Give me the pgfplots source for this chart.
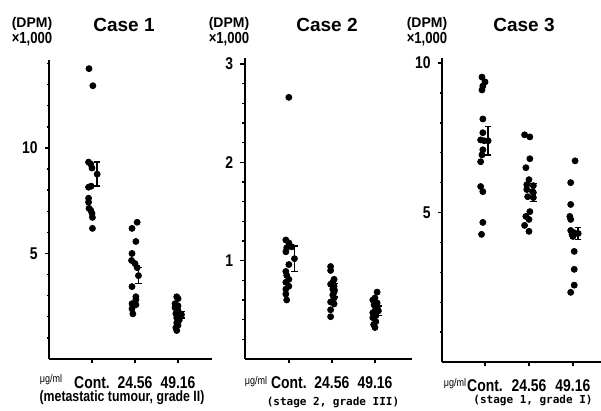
\documentclass[border=0pt]{standalone}
\usepackage{fontspec}
\setmainfont{Liberation Sans}
\newfontfamily\tickfont[FakeStretch=0.82]{Liberation Sans}
\newfontfamily\monofont{DejaVu Sans Mono}
\usepackage{pgfplots}
\pgfplotsset{compat=1.18}

\pgfplotsset{
  dotpanel/.style={
    scale only axis,
    anchor=south west,
    axis lines=left,
    axis line style={-, line width=1pt},
    xtick={0,1,2},
    xticklabels={Cont., 24.56, 49.16},
    tick align=outside,
    major tick length=2.2pt,
    minor tick length=1.2pt,
    tick style={black, line width=0.7pt},
    ticklabel style={font=\tickfont\bfseries\fontsize{8.5}{9}\selectfont},
    xticklabel style={yshift=-3pt},
    /pgf/number format/assume math mode=true,
    clip=false,
  },
  dots/.style={only marks, mark=*, mark size=1.5pt, black},
  meanbar/.style={only marks, mark=*, mark size=1.5pt, black,
    error bars/.cd, y dir=both, y explicit,
    error bar style={line width=0.7pt},
    error mark options={rotate=90, mark size=1.6pt, line width=0.7pt}},
}

\begin{document}
\begin{tikzpicture}
\path[use as bounding box] (0,0) rectangle (300.5pt,205.5pt);

% ---- Case 1 ----
\begin{axis}[dotpanel, at={(24.5pt,26pt)}, width=81.5pt, height=149.5pt,
  xmin=-1, xmax=2.79, ymin=0, ymax=14.17,
  ytick={5,10}, minor ytick={1,...,14}]
\addplot[dots] coordinates {
 (-0.07,13.76) (0.02,12.95) (-0.08,9.33) (-0.03,9.24) (0.0,9.05) (-0.08,8.14) (-0.02,8.19)
 (-0.08,7.62) (-0.08,7.43) (-0.07,7.14) (-0.03,7.05) (0.0,6.9) (0.01,6.71) (0.01,6.19)
 (1.05,6.48) (0.93,6.19) (1.02,5.57) (0.93,5.0) (0.92,4.67) (1.0,4.52) (1.05,4.33)
 (0.93,3.43) (1.02,2.95) (1.02,2.81) (0.93,2.62) (1.02,2.57) (0.93,2.38) (0.95,2.14)
 (1.97,2.95) (2.0,2.86) (1.93,2.62) (2.0,2.52) (1.93,2.43) (2.0,2.3) (1.95,2.15)
 (2.02,2.05) (1.97,1.95) (2.03,1.85) (1.97,1.71) (2.0,1.6) (1.95,1.48) (1.97,1.35)
};
\addplot[meanbar] coordinates {
 (0.12,8.76) +- (0,0.57)
 (1.08,3.95) +- (0,0.38)
 (2.08,2.10) +- (0,0.15)
};
\end{axis}

% ---- Case 2 ----
\begin{axis}[dotpanel, at={(122.25pt,26pt)}, width=83.75pt, height=150.5pt,
  xmin=-1.03, xmax=2.86, ymin=0, ymax=3.06,
  ytick={1,2,3}, minor ytick={0.2,0.4,...,3.0}]
\addplot[dots] coordinates {
 (0.0,2.66) (-0.07,1.21) (0.0,1.18) (0.07,1.14) (-0.05,1.13) (-0.07,1.09) (0.0,0.96)
 (-0.07,0.89) (-0.05,0.85) (0.0,0.81) (-0.07,0.78) (0.0,0.74) (-0.07,0.71) (-0.07,0.66) (-0.05,0.6)
 (0.97,0.94) (0.97,0.9) (1.05,0.81) (1.02,0.78) (0.97,0.76) (1.05,0.74) (1.02,0.71)
 (1.05,0.68) (1.02,0.65) (1.05,0.62) (0.97,0.58) (1.05,0.56) (0.97,0.5) (0.97,0.43)
 (2.05,0.68) (2.0,0.62) (1.95,0.6) (2.05,0.57) (1.98,0.55) (2.05,0.52) (2.0,0.49)
 (1.95,0.47) (2.02,0.44) (1.95,0.42) (2.02,0.38) (1.97,0.35) (2.0,0.32)
};
\addplot[meanbar] coordinates {
 (0.13,1.02) +- (0,0.13)
 (1.06,0.70) +- (0,0.07)
 (2.08,0.49) +- (0,0.05)
};
\end{axis}

% ---- Case 3 ----
\begin{axis}[dotpanel, at={(221pt,24.5pt)}, width=79.5pt, height=152pt,
  xmin=-0.98, xmax=2.64, ymin=0, ymax=10.17,
  ytick={5,10}, minor ytick={1,...,10}]
\addplot[dots] coordinates {
 (-0.07,9.53) (0.0,9.37) (-0.05,9.23) (-0.07,9.1) (-0.05,8.13) (-0.05,7.67) (-0.1,7.43)
 (-0.02,7.4) (-0.05,7.1) (-0.07,6.93) (-0.1,6.7) (-0.1,5.87) (-0.05,5.7) (-0.05,4.67) (-0.08,4.27)
 (0.9,7.6) (1.02,7.53) (1.02,6.8) (0.93,6.5) (1.0,6.1) (0.95,5.93) (1.1,5.9) (0.95,5.77)
 (1.08,5.7) (0.97,5.53) (1.1,5.5) (1.02,5.03) (0.93,4.87) (1.0,4.77) (0.9,4.57) (1.0,4.37)
 (2.05,6.73) (1.95,6.0) (1.95,5.27) (1.93,4.87) (1.95,4.77) (1.95,4.4) (2.02,4.33)
 (1.98,4.27) (2.0,4.2) (2.05,4.3) (2.03,3.7) (2.03,3.1) (2.03,2.57) (1.95,2.33)
};
\addplot[meanbar] coordinates {
 (0.07,7.40) +- (0,0.47)
 (1.10,5.67) +- (0,0.30)
 (2.12,4.30) +- (0,0.20)
};
\end{axis}

% ---- headers and captions ----
\foreach \cx/\tx/\nm in {16/62/1, 114.5/163.5/2, 213.5/262/3}{
  \node[font=\bfseries\fontsize{7}{7}\selectfont] at (\cx pt,193.75pt) {(DPM)};
  \node[font=\tickfont\bfseries\fontsize{8}{8}\selectfont] at (\cx pt,186pt) {×1,000};
  \node[font=\bfseries\fontsize{9.5}{10}\selectfont] at (\tx pt,193.25pt) {Case \nm};
}
\node[font=\tickfont\fontsize{5.5}{6}\selectfont] at (25.5pt,15.5pt) {μg/ml};
\node[font=\tickfont\fontsize{5.5}{6}\selectfont] at (128pt,14.5pt) {μg/ml};
\node[font=\tickfont\fontsize{5.5}{6}\selectfont] at (227.5pt,13.5pt) {μg/ml};
\node[font=\tickfont\bfseries\fontsize{7.5}{8}\selectfont] at (61pt,6.5pt) {(metastatic tumour, grade II)};
\node[font=\monofont\bfseries\fontsize{5.5}{6}\selectfont] at (166.5pt,4.5pt) {(stage 2, grade III)};
\node[font=\monofont\bfseries\fontsize{5.5}{6}\selectfont] at (266.5pt,5.5pt) {(stage 1, grade I)};
\end{tikzpicture}
\end{document}
